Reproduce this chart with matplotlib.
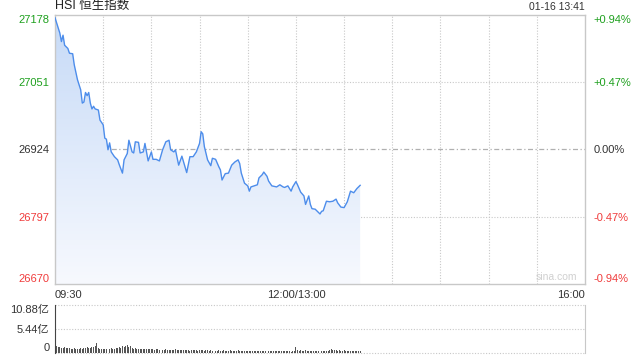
import numpy as np
import matplotlib
matplotlib.use("Agg")
import matplotlib.pyplot as plt
from matplotlib.colors import LinearSegmentedColormap

plt.rcParams['font.family'] = ['Liberation Sans', 'Noto Sans CJK SC', 'DejaVu Sans']

# --- data (minutes since 09:30, lunch break removed) ---
minutes = [0, 3, 4, 5, 6, 8, 9, 11, 12, 14, 16, 17, 18, 19, 20, 21, 22, 23, 24, 25,
           27, 28, 30, 31, 32, 33, 34, 35, 37, 39, 40, 42, 43, 45, 46, 48, 49, 50, 52,
           53, 55, 56, 58, 60, 61, 63, 65, 67, 69, 71, 72, 74, 75, 77, 79, 82, 84, 86,
           88, 90, 91, 92, 93, 95, 97, 98, 100, 102, 103, 104, 106, 108, 110, 112, 114,
           115, 116, 118, 120, 121, 122, 124, 126, 127, 129, 130, 132, 133, 135, 138,
           140, 142, 143, 145, 147, 148, 150, 151, 153, 155, 156, 158, 159, 160, 162,
           165, 166, 167, 169, 171, 173, 175, 176, 178, 180, 182, 184, 186, 188, 190]
prices = [27172, 27143, 27127, 27139, 27120, 27114, 27105, 27104, 27083, 27055, 27036,
          27011, 27013, 27031, 27025, 27031, 27011, 27000, 27005, 27000, 26998, 26979,
          26970, 26945, 26943, 26923, 26936, 26919, 26910, 26904, 26895, 26879, 26904,
          26916, 26941, 26919, 26917, 26938, 26937, 26917, 26919, 26935, 26902, 26919,
          26905, 26905, 26902, 26923, 26938, 26941, 26923, 26919, 26923, 26894, 26911,
          26880, 26910, 26910, 26919, 26935, 26957, 26953, 26929, 26904, 26893, 26907,
          26905, 26891, 26885, 26866, 26878, 26879, 26894, 26900, 26904, 26897, 26879,
          26860, 26855, 26845, 26853, 26855, 26857, 26870, 26876, 26881, 26873, 26864,
          26855, 26853, 26857, 26853, 26852, 26855, 26845, 26853, 26863, 26857, 26843,
          26836, 26820, 26836, 26820, 26812, 26811, 26802, 26807, 26808, 26826, 26825,
          26826, 26830, 26823, 26815, 26814, 26825, 26845, 26842, 26850, 26856]

# volume per minute, in 亿
volume = [3.1,
          1.5, 1.3, 1.4, 1.2, 1.2, 1.3, 1.1, 1.2, 1.1, 1.0,
          1.0, 1.1, 1.0, 0.9, 1.0, 1.1, 1.0, 1.2, 1.1, 1.3,
          1.2, 1.1, 1.4, 1.3, 1.6, 2.2, 1.1, 1.0, 1.0, 0.9,
          1.0, 0.9, 1.0, 0.9, 1.1, 1.0, 1.0, 1.2, 1.1, 1.3,
          1.2, 1.5, 1.4, 1.7, 1.9, 1.3, 1.6, 1.2, 1.0, 1.1,
          1.0, 0.9, 1.0, 0.9, 0.8, 0.9, 1.0, 0.8, 0.9, 0.8,
          0.8, 0.7, 0.8, 0.9, 0.7, 0.8, 0.7, 0.7, 0.8, 0.7,
          0.6, 0.7, 0.6, 0.7, 0.8, 0.6, 0.7, 0.6, 0.6, 0.7,
          0.6, 0.7, 0.6, 0.5, 0.6, 0.7, 0.6, 0.6, 0.5, 0.6,
          0.7, 0.6, 0.5, 0.6, 0.6, 0.5, 0.6, 0.5, 0.6, 0.5,
          0.5, 0.6, 0.5, 0.5, 0.6, 0.5, 0.4, 0.5, 0.6, 0.5,
          0.5, 0.4, 0.5, 0.6, 0.5, 0.4, 0.5, 0.5, 0.4, 0.5,
          0.5, 0.4, 0.5, 0.4, 0.4, 0.5, 0.4, 0.5, 0.4, 0.4,
          0.5, 0.4, 0.4, 0.4, 0.5, 0.4, 0.4, 0.4, 0.5, 0.4,
          0.4, 0.4, 0.4, 0.5, 0.4, 0.4, 0.3, 0.4, 0.4,
          1.4,
          0.6, 0.5, 0.6, 0.5, 0.4, 0.6, 0.5, 0.4, 0.5, 0.5,
          0.4, 0.5, 0.4, 0.5, 0.5, 0.4, 0.4, 0.5, 0.5, 0.4,
          0.6, 0.9, 0.7, 0.6, 0.6, 0.5, 0.6, 0.5, 0.5, 0.6,
          0.5, 0.5, 0.4, 0.5, 0.5, 0.4, 0.5, 0.4, 0.4, 0.4]

prev_close = 26924
price_ticks = [26670, 26797, 26924, 27051, 27178]
pct_labels = ['-0.94%', '-0.47%', '0.00%', '+0.47%', '+0.94%']
tick_colors = ['#f03c3c', '#f03c3c', '#333333', '#1ea01e', '#1ea01e']
vol_ticks = [0, 5.44, 10.88]
vol_labels = ['0', '5.44亿', '10.88亿']

W, H = 640, 360
fig = plt.figure(figsize=(6.4, 3.6), dpi=100)

# ---------- price panel ----------
ax = fig.add_axes([55 / W, 1 - 284 / H, 530 / W, 269.5 / H])
ax.set_xlim(0, 330)
ax.set_ylim(price_ticks[0], price_ticks[-1])

for s in ax.spines.values():
    s.set_color('#c8c8c8')
    s.set_linewidth(1)

for m in range(30, 330, 30):
    ax.axvline(m, color='#c8c8c8', lw=0.8, ls=(0, (1, 1.5)), zorder=1)
for p in price_ticks[1:-1]:
    if p == prev_close:
        ax.axhline(p, color='#b0b0b0', lw=0.9, ls=(0, (4, 2, 1, 2)), zorder=1)
    else:
        ax.axhline(p, color='#c8c8c8', lw=0.8, ls=(0, (1, 1.5)), zorder=1)

# gradient fill under line
poly = ax.fill_between(minutes, prices, price_ticks[0], color='none', lw=0)
cmap = LinearSegmentedColormap.from_list('g', ['#f7f9fe', '#c6daf7'])
grad = np.linspace(0, 1, 256).reshape(-1, 1)
img = ax.imshow(grad, cmap=cmap, aspect='auto', origin='lower',
                extent=[0, 330, price_ticks[0], price_ticks[-1]], zorder=2)
path = poly.get_paths()[0]
img.set_clip_path(path, transform=ax.transData)

ax.plot(minutes, prices, color='#4d8deb', lw=1.0, zorder=3)

ax.set_yticks(price_ticks)
ax.set_yticklabels([str(p) for p in price_ticks])
ax.tick_params(axis='y', length=0, pad=4, labelsize=8)
for lab, c in zip(ax.get_yticklabels(), tick_colors):
    lab.set_color(c)
ax.get_yticklabels()[0].set_va('bottom')
ax.get_yticklabels()[-1].set_va('top')

ax2 = ax.twinx()
ax2.set_ylim(ax.get_ylim())
ax2.set_yticks(price_ticks)
ax2.set_yticklabels(pct_labels)
ax2.tick_params(axis='y', length=0, pad=6, labelsize=8)
for lab, c in zip(ax2.get_yticklabels(), tick_colors):
    lab.set_color(c)
ax2.get_yticklabels()[0].set_va('bottom')
ax2.get_yticklabels()[-1].set_va('top')
for s in ax2.spines.values():
    s.set_visible(False)

ax.set_xticks([])
ax.text(0, -0.022, '09:30', transform=ax.transAxes, ha='left', va='top', fontsize=8, color='#333333')
ax.text(150, -0.022, '12:00/13:00', transform=ax.get_xaxis_transform(), ha='center', va='top',
        fontsize=8, color='#333333')
ax.text(1, -0.022, '16:00', transform=ax.transAxes, ha='right', va='top', fontsize=8, color='#333333')

ax.text(0, 1.01, 'HSI 恒生指数', transform=ax.transAxes, ha='left', va='bottom', fontsize=9, color='#222222')
ax.text(1, 1.01, '01-16 13:41', transform=ax.transAxes, ha='right', va='bottom', fontsize=7.5, color='#333333')
ax.text(0.985, 0.008, 'sina.com', transform=ax.transAxes, ha='right', va='bottom', fontsize=7.5,
        color='#d0d0d0', zorder=4)

# ---------- volume panel ----------
vx = fig.add_axes([55 / W, 1 - 353 / H, 530 / W, 48 / H])
vx.set_xlim(0, 330)
vx.set_ylim(0, 10.88)
vx.bar(np.arange(len(volume)), volume, width=0.6, color='#555555', zorder=3)
for v in vol_ticks:
    vx.axhline(v, color='#c8c8c8', lw=0.8, ls=(0, (1, 1.5)), zorder=1, clip_on=False)
vx.spines['top'].set_visible(False)
vx.spines['bottom'].set_visible(False)
vx.spines['left'].set_color('#444444')
vx.spines['right'].set_color('#c8c8c8')
vx.set_xticks([])
vx.set_yticks(vol_ticks)
vx.set_yticklabels(vol_labels)
vx.tick_params(axis='y', length=0, pad=4, labelsize=8, labelcolor='#333333')
vx.get_yticklabels()[0].set_va('bottom')
vx.get_yticklabels()[-1].set_va('top')

fig.savefig('out.png', dpi=100)
